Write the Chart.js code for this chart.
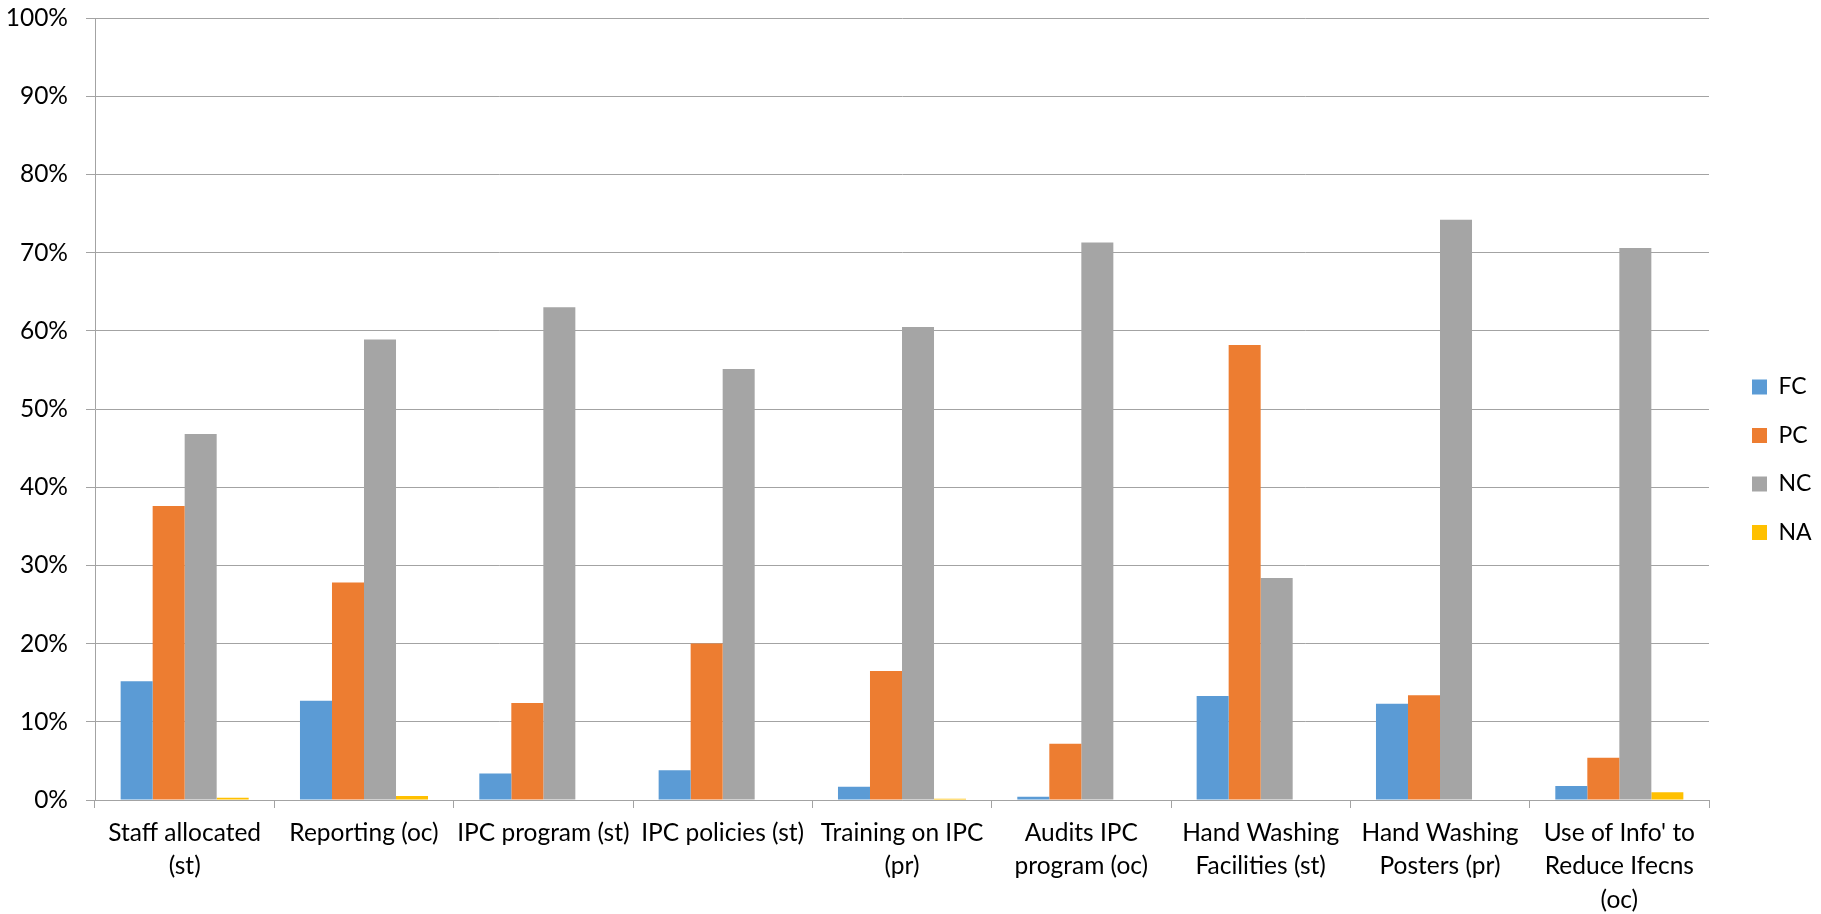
<!DOCTYPE html>
<html>
<head>
<meta charset="utf-8">
<script src="https://cdn.jsdelivr.net/npm/chart.js@4.4.1/dist/chart.umd.min.js"></script>
<style>
  html, body { margin: 0; padding: 0; background: #ffffff; }
  #wrap { width: 1821px; height: 914px; }
</style>
</head>
<body>
<div id="wrap"><canvas id="chart" width="1821" height="914"></canvas></div>
<script>
// Compliance by IPC indicator (% of facilities)
const categories = [
  ['Staff allocated', '(st)'],
  'Reporting (oc)',
  'IPC program (st)',
  'IPC policies (st)',
  ['Training on IPC', '(pr)'],
  ['Audits IPC', 'program (oc)'],
  ['Hand Washing', 'Facilities (st)'],
  ['Hand Washing', 'Posters (pr)'],
  ["Use of Info' to", 'Reduce Ifecns', '(oc)']
];
const fullyCompliant     = [15.2, 12.7,  3.4,  3.8,  1.7,  0.4, 13.3, 12.3,  1.8];
const partiallyCompliant = [37.6, 27.8, 12.4, 20.0, 16.5,  7.2, 58.2, 13.4,  5.4];
const nonCompliant       = [46.8, 58.9, 63.0, 55.1, 60.5, 71.3, 28.4, 74.2, 70.6];
const notApplicable      = [ 0.3,  0.5,  0.0,  0.0, 0.15,  0.0,  0.0,  0.0,  1.0];
const seriesNames = ['FC', 'PC', 'NC', 'NA'];
const yTicks = [0, 10, 20, 30, 40, 50, 60, 70, 80, 90, 100];

const FONT = 'Lato';
const AXIS_FONT_SIZE = 24.5;
const LEGEND_FONT_SIZE = 23;
const LEGEND_BOX = 15;
const LEGEND_PAD = 25.5;

// measure legend labels so the plot keeps its right edge
const mctx = document.createElement('canvas').getContext('2d');
mctx.font = LEGEND_FONT_SIZE + 'px ' + FONT;
const legendTextW = Math.max(...seriesNames.map(s => mctx.measureText(s).width));
const legendW = LEGEND_PAD + LEGEND_BOX + LEGEND_FONT_SIZE / 2 + legendTextW + 10;
const plotRight = 1709;
const legendBoxX = 1752;
const legendFirstY = 387;

// place the legend column beside the plot
const legendNudge = {
  id: 'legendNudge',
  afterLayout(chart) {
    const L = chart.legend;
    if (!L || !L.columnSizes) return;
    const dx = legendBoxX - (L.left + LEGEND_PAD);
    L.left += dx;
    L.right += dx;
    const start = (L.top + LEGEND_PAD + L.bottom - L.columnSizes[0].height) / 2;
    const dy = (legendFirstY - LEGEND_FONT_SIZE / 2) - start;
    L.top += dy;
    L.bottom += dy;
  }
};

const gridGray = '#a3a3a3';

new Chart(document.getElementById('chart'), {
  type: 'bar',
  data: {
    labels: categories,
    datasets: [
      { label: seriesNames[0], data: fullyCompliant,     backgroundColor: '#5b9bd5' },
      { label: seriesNames[1], data: partiallyCompliant, backgroundColor: '#ed7d31' },
      { label: seriesNames[2], data: nonCompliant,       backgroundColor: '#a5a5a5' },
      { label: seriesNames[3], data: notApplicable,      backgroundColor: '#ffc000' }
    ]
  },
  options: {
    responsive: false,
    animation: false,
    devicePixelRatio: 1,
    layout: { padding: { top: 18, left: 0, right: 1821 - plotRight - legendW, bottom: 0 } },
    datasets: { bar: { categoryPercentage: 0.714, barPercentage: 1.0, borderWidth: 0 } },
    plugins: {
      legend: {
        position: 'right',
        align: 'center',
        labels: {
          boxWidth: LEGEND_BOX,
          boxHeight: LEGEND_BOX,
          padding: LEGEND_PAD,
          color: '#000000',
          font: { family: FONT, size: LEGEND_FONT_SIZE }
        }
      },
      tooltip: { enabled: false }
    },
    scales: {
      x: {
        offset: true,
        grid: {
          display: true,
          drawOnChartArea: false,
          drawTicks: true,
          tickLength: 8,
          offset: true,
          color: gridGray
        },
        border: { display: true, color: gridGray, width: 1 },
        ticks: {
          color: '#000000',
          padding: 8,
          maxRotation: 0,
          autoSkip: false,
          font: { family: FONT, size: AXIS_FONT_SIZE, lineHeight: 33.5 / AXIS_FONT_SIZE }
        },
        afterFit(scale) { scale.height = 114; }
      },
      y: {
        min: 0,
        max: 100,
        afterBuildTicks(scale) { scale.ticks = yTicks.map(v => ({ value: v })); },
        grid: { color: gridGray, lineWidth: 1, drawTicks: true, tickLength: 9 },
        border: { display: true, color: gridGray, width: 1 },
        ticks: {
          color: '#000000',
          padding: 18,
          font: { family: FONT, size: AXIS_FONT_SIZE },
          callback: v => v + '%'
        },
        afterFit(scale) {
          scale.width = 95;
          scale.paddingTop = 0;
          scale.paddingBottom = 0;
        }
      }
    }
  },
  plugins: [legendNudge]
});
</script>
</body>
</html>
